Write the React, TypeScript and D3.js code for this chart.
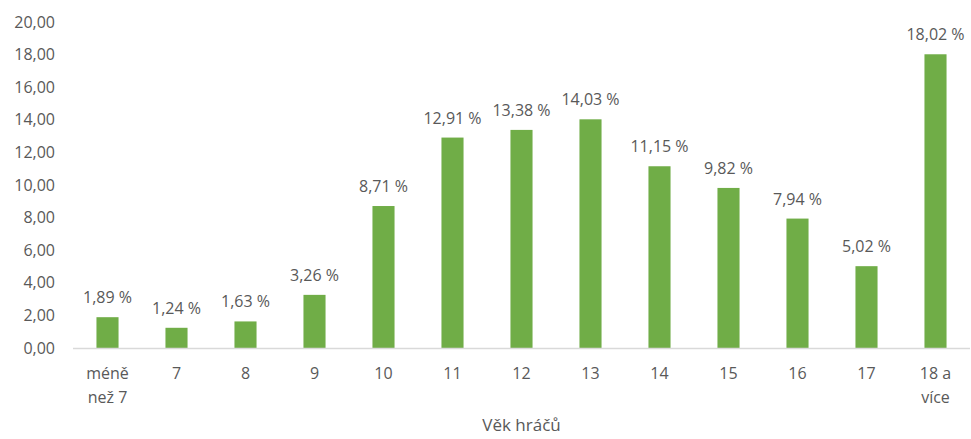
import React from "react";
import * as d3 from "d3";

const categories: string[][] = [["méně", "než 7"], ["7"], ["8"], ["9"], ["10"], ["11"], ["12"], ["13"], ["14"], ["15"], ["16"], ["17"], ["18 a", "více"]];
const values: number[] = [1.89, 1.24, 1.63, 3.26, 8.71, 12.91, 13.38, 14.03, 11.15, 9.82, 7.94, 5.02, 18.02];
const yTicks: number[] = [0, 2, 4, 6, 8, 10, 12, 14, 16, 18, 20];
const xTitle = "Věk hráčů";

const W = 971;
const H = 439;
const left = 73;
const right = 970;
const top = 22;
const bottom = 348;
const font = "'Open Sans', sans-serif";
const textColor = "#595959";

const fmt = (v: number) => v.toFixed(2).replace(".", ",");

export default function App() {
  const x = d3.scaleBand<number>().domain(values.map((_, i) => i)).range([left, right]).paddingInner(0.68).paddingOuter(0.34);
  const y = d3.scaleLinear().domain([0, 20]).range([bottom, top]);
  return (
    <svg width={W} height={H} style={{ position: "absolute", left: 0, top: 0, background: "#fff" }}>
      {yTicks.map((t) => (
        <text key={t} x={55} y={y(t)} dy="0.35em" textAnchor="end" fontFamily={font} fontSize={16} fill={textColor}>
          {fmt(t)}
        </text>
      ))}
      {values.map((v, i) => (
        <rect key={i} x={x(i)!} y={y(v)} width={x.bandwidth()} height={bottom - y(v)} fill="#70AD47" />
      ))}
      <line x1={left} x2={right} y1={bottom + 0.5} y2={bottom + 0.5} stroke="#d9d9d9" strokeWidth={1.5} />
      {values.map((v, i) => (
        <text key={"l" + i} x={x(i)! + x.bandwidth() / 2} y={y(v) - 14} textAnchor="middle" fontFamily={font} fontSize={16} fill={textColor}>
          {fmt(v) + " %"}
        </text>
      ))}
      {categories.map((c, i) => (
        <text key={"c" + i} x={x(i)! + x.bandwidth() / 2} y={379} textAnchor="middle" fontFamily={font} fontSize={16} fill={textColor}>
          {c.map((line, j) => (
            <tspan key={j} x={x(i)! + x.bandwidth() / 2} dy={j === 0 ? 0 : 24}>{line}</tspan>
          ))}
        </text>
      ))}
      <text x={(left + right) / 2} y={431} textAnchor="middle" fontFamily={font} fontSize={17} fill={textColor}>
        {xTitle}
      </text>
    </svg>
  );
}
